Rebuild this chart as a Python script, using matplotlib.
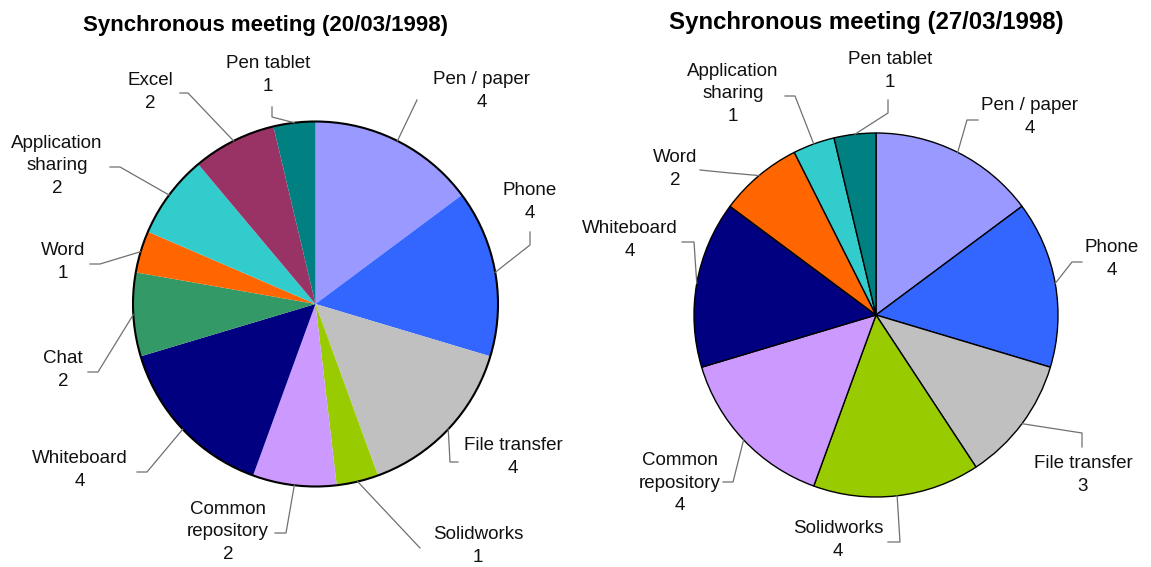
import matplotlib
matplotlib.use("Agg")
import matplotlib.pyplot as plt
import numpy as np

plt.rcParams["font.family"] = ["Liberation Sans", "DejaVu Sans"]

W, H = 1151, 567

# data
left_title = "Synchronous meeting (20/03/1998)"
left_labels = ["Pen / paper", "Phone", "File transfer", "Solidworks", "Common\nrepository",
               "Whiteboard", "Chat", "Word", "Application\nsharing", "Excel", "Pen tablet"]
left_values = [4, 4, 4, 1, 2, 4, 2, 1, 2, 2, 1]

right_title = "Synchronous meeting (27/03/1998)"
right_labels = ["Pen / paper", "Phone", "File transfer", "Solidworks", "Common\nrepository",
                "Whiteboard", "Word", "Application\nsharing", "Pen tablet"]
right_values = [4, 4, 3, 4, 4, 4, 2, 1, 1]

palette = {
    "Pen / paper": "#9999FF", "Phone": "#3366FF", "File transfer": "#C0C0C0",
    "Solidworks": "#99CC00", "Common\nrepository": "#CC99FF", "Whiteboard": "#000080",
    "Chat": "#339966", "Word": "#FF6600", "Application\nsharing": "#33CCCC",
    "Excel": "#993366", "Pen tablet": "#008080",
}

# layout (pixel coords, y from top): text centre, leader elbow, leader end
left_layout = [
    ((482, 91), (417, 100), (417, 100)),
    ((530, 202), (530, 245), (530, 232)),
    ((513, 457), (450, 462), (458, 462)),
    ((478, 546), (420, 548), (420, 548)),
    ((228, 532), (286, 533), (275, 533)),
    ((80, 470), (147, 472), (137, 472)),
    ((63, 370), (98, 372), (88, 372)),
    ((63, 262), (100, 264), (90, 264)),
    ((57, 166), (120, 167), (110, 167)),
    ((150, 92), (188, 93), (180, 93)),
    ((268, 75), (272, 117), (272, 107)),
]
right_layout = [
    ((1030, 117), (967, 120), (978, 120)),
    ((1112, 259), (1072, 262), (1082, 262)),
    ((1083, 475), (1082, 433), (1082, 447)),
    ((838, 540), (900, 542), (888, 542)),
    ((680, 483), (733, 482), (723, 482)),
    ((630, 240), (694, 242), (682, 242)),
    ((675, 169), (730, 173), (700, 170)),
    ((733, 94), (795, 96), (785, 96)),
    ((890, 71), (888, 113), (888, 100)),
]


def py(y):
    return H - y


fig = plt.figure(figsize=(W / 100, H / 100), dpi=100)
ax = fig.add_axes([0, 0, 1, 1])


def draw_pie(values, labels, layout, cx, cy, r, title, tx, ty, tsize, edges):
    colors = [palette[l] for l in labels]
    if edges:
        wp = dict(edgecolor="black", linewidth=1.0)
    else:
        wp = dict(edgecolor="none", linewidth=0)
    wedges, _ = ax.pie(values, colors=colors, startangle=90, counterclock=False,
                       center=(cx, py(cy)), radius=r, wedgeprops=wp, frame=True)
    if not edges:
        ax.add_patch(plt.Circle((cx, py(cy)), r, fill=False, edgecolor="black", lw=1.5))
    for w, lab, val, (tc, el, en) in zip(wedges, labels, values, layout):
        ang = np.deg2rad((w.theta1 + w.theta2) / 2)
        sx = cx + r * np.cos(ang)
        sy = py(cy) + r * np.sin(ang)
        ax.plot([sx, el[0], en[0]], [sy, py(el[1]), py(en[1])], color="#707070", lw=0.9)
        ax.text(tc[0], py(tc[1]), f"{lab}\n{val}", ha="center", va="center",
                fontsize=13.5, linespacing=1.4, color="#111111")
    ax.text(tx, py(ty), title, ha="center", va="center", fontsize=tsize, fontweight="bold")


draw_pie(left_values, left_labels, left_layout, 315.5, 304, 182.5, left_title, 266, 25, 16, False)
draw_pie(right_values, right_labels, right_layout, 876, 315, 182, right_title, 866, 22, 17.3, True)

ax.set_xlim(0, W)
ax.set_ylim(0, H)
ax.set_aspect("equal")
ax.axis("off")

fig.savefig("out.png", dpi=100)
